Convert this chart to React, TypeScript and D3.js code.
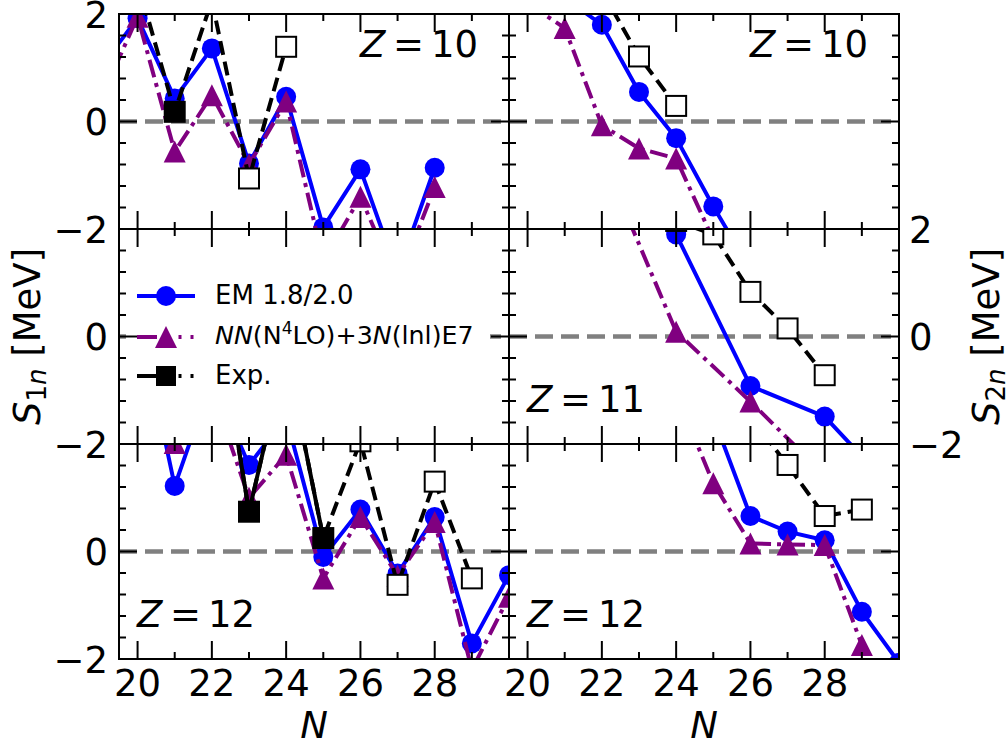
import React from "react";
import * as d3 from "d3";

// ---- neutron numbers and separation energies (MeV) ----
// Z = 10, S1n
const z10S1nN = [19, 20, 21, 22, 23, 24, 25, 26, 27, 28];
const z10S1nEM = [1.0, 1.92, 0.43, 1.36, -0.78, 0.46, -1.97, -0.89, -2.83, -0.86];
const z10S1nNN = [0.4, 1.95, -0.56, 0.49, -0.8, 0.37, -2.6, -1.4, -3.0, -1.22];
const z10S1nExpN = [20, 21, 22, 23, 24];
const z10S1nExp = [2.6, 0.18, 2.25, -1.06, 1.39];
const z10S1nExpMeasured = [false, true, false, false, false];

// Z = 10, S2n
const z10S2nEmN = [21, 22, 23, 24, 25, 26];
const z10S2nEM = [2.3, 1.8, 0.55, -0.31, -1.58, -2.75];
const z10S2nNnN = [20, 21, 22, 23, 24, 25];
const z10S2nNN = [2.2, 1.74, -0.07, -0.5, -0.69, -2.2];
const z10S2nExpN = [22, 23, 24];
const z10S2nExp = [2.43, 1.21, 0.29];
const z10S2nExpMeasured = [false, false, false];

// Z = 11, S2n
const z11S2nEmN = [24, 26, 28, 30];
const z11S2nEM = [1.9, -0.92, -1.49, -2.97];
const z11S2nNnN = [22, 24, 26, 28];
const z11S2nNN = [3.35, 0.09, -1.21, -2.58];
const z11S2nExpN = [24, 25, 26, 27, 28];
const z11S2nExp = [2.15, 1.9, 0.83, 0.15, -0.72];
const z11S2nExpMeasured = [false, false, false, false, false];

// Z = 12, S1n
const z12S1nN = [20, 21, 22, 23, 24, 25, 26, 27, 28, 29, 30];
const z12S1nEM = [4.47, 1.22, 3.2, 1.61, 2.5, -0.1, 0.78, -0.41, 0.64, -1.71, -0.44];
const z12S1nNN = [3.5, 2.02, 3.0, 1.0, 1.8, -0.5, 0.64, -0.45, 0.55, -2.2, -0.84];
const z12S1nExpN = [22, 23, 24, 25, 26, 27, 28, 29];
const z12S1nExp = [5.0, 0.74, 3.7, 0.25, 2.05, -0.62, 1.3, -0.5];
const z12S1nExpMeasured = [true, true, true, true, false, false, false, false];

// Z = 12, S2n
const z12S2nEmN = [25, 26, 27, 28, 29, 30];
const z12S2nEM = [2.5, 0.66, 0.37, 0.21, -1.12, -2.07];
const z12S2nNnN = [24, 25, 26, 27, 28, 29, 30];
const z12S2nNN = [2.93, 1.27, 0.15, 0.13, 0.12, -1.74, -3.2];
const z12S2nExpN = [26, 27, 28, 29];
const z12S2nExp = [2.5, 1.61, 0.66, 0.78];
const z12S2nExpMeasured = [false, false, false, false];

// ---- axes ----
const xDomain = [19.5, 30];
const yDomain = [-2, 2];
const xMajorTicks = [20, 22, 24, 26, 28, 30];
const xMinorTicks = [21, 23, 25, 27, 29];
const xTickLabels = [20, 22, 24, 26, 28];
const yMajorTicks = [-2, 0, 2];
const yMinorTicks = [-1.6, -1.2, -0.8, -0.4, 0.4, 0.8, 1.2, 1.6];

const legendLabels = ["EM 1.8/2.0", "NN(N4LO)+3N(lnl)E7", "Exp."];

const zip = (n: number[], v: number[]) => n.map((d, i) => ({ n: d, v: v[i] }));
const zipExp = (n: number[], v: number[], m: boolean[]) =>
  n.map((d, i) => ({ n: d, v: v[i], m: m[i] }));

type Pt = { n: number; v: number; m?: boolean };
type Panel = {
  key: string;
  col: number;
  row: number;
  em: Pt[];
  nn: Pt[];
  exp: Pt[];
  label?: string;
  labelX?: number;
  labelY?: number;
};

const panels: Panel[] = [
  {
    key: "z10s1n", col: 0, row: 0,
    em: zip(z10S1nN, z10S1nEM), nn: zip(z10S1nN, z10S1nNN),
    exp: zipExp(z10S1nExpN, z10S1nExp, z10S1nExpMeasured),
    label: "10", labelX: 241, labelY: 43,
  },
  {
    key: "z10s2n", col: 1, row: 0,
    em: zip(z10S2nEmN, z10S2nEM), nn: zip(z10S2nNnN, z10S2nNN),
    exp: zipExp(z10S2nExpN, z10S2nExp, z10S2nExpMeasured),
    label: "10", labelX: 241, labelY: 43,
  },
  { key: "z11s1n", col: 0, row: 1, em: [], nn: [], exp: [] },
  {
    key: "z11s2n", col: 1, row: 1,
    em: zip(z11S2nEmN, z11S2nEM), nn: zip(z11S2nNnN, z11S2nNN),
    exp: zipExp(z11S2nExpN, z11S2nExp, z11S2nExpMeasured),
    label: "11", labelX: 18, labelY: 183,
  },
  {
    key: "z12s1n", col: 0, row: 2,
    em: zip(z12S1nN, z12S1nEM), nn: zip(z12S1nN, z12S1nNN),
    exp: zipExp(z12S1nExpN, z12S1nExp, z12S1nExpMeasured),
    label: "12", labelX: 18, labelY: 183,
  },
  {
    key: "z12s2n", col: 1, row: 2,
    em: zip(z12S2nEmN, z12S2nEM), nn: zip(z12S2nNnN, z12S2nNN),
    exp: zipExp(z12S2nExpN, z12S2nExp, z12S2nExpMeasured),
    label: "12", labelX: 18, labelY: 183,
  },
];

const W = 1008;
const H = 746;
const PANEL_W = 390;
const PANEL_H = 215;
const LEFT0 = 119;
const TOP0 = 14;
const FONT = "DejaVu Sans, sans-serif";

const BLUE = "#0000ff";
const PURPLE = "#800080";
const GRAY = "#808080";

const LW = 4;
const NN_DASH = "18,6,4,6";
const EXP_DASH = "14,7";

function triPath(cx: number, cy: number, s: number) {
  return `M${cx},${cy - s}L${cx + s},${cy + s}L${cx - s},${cy + s}Z`;
}

function PanelView({ p }: { p: Panel }) {
  const left = LEFT0 + p.col * PANEL_W;
  const top = TOP0 + p.row * PANEL_H;
  const x = d3.scaleLinear().domain(xDomain).range([left, left + PANEL_W]);
  const y = d3.scaleLinear().domain(yDomain).range([top + PANEL_H, top]);
  const line = d3
    .line<Pt>()
    .x((d) => x(d.n))
    .y((d) => y(d.v));
  const clipId = `clip-${p.key}`;

  // consecutive measured points get a solid line
  const measuredRuns: Pt[][] = [];
  let run: Pt[] = [];
  p.exp.forEach((d) => {
    if (d.m) run.push(d);
    else {
      if (run.length > 1) measuredRuns.push(run);
      run = [];
    }
  });
  if (run.length > 1) measuredRuns.push(run);

  const lx = left + (p.labelX || 0);
  const ly = top + (p.labelY || 0);

  return (
    <g>
      <defs>
        <clipPath id={clipId}>
          <rect x={left} y={top} width={PANEL_W} height={PANEL_H} />
        </clipPath>
      </defs>
      <g clipPath={`url(#${clipId})`}>
        <line
          x1={left}
          x2={left + PANEL_W}
          y1={y(0)}
          y2={y(0)}
          stroke={GRAY}
          strokeWidth={4.5}
          strokeDasharray="18,8"
        />
        {p.em.length > 0 && (
          <g>
            <path d={line(p.em) || ""} fill="none" stroke={BLUE} strokeWidth={LW} strokeLinejoin="round" />
            {p.em.map((d, i) => (
              <circle key={i} cx={x(d.n)} cy={y(d.v)} r={10} fill={BLUE} />
            ))}
          </g>
        )}
        {p.nn.length > 0 && (
          <g>
            <path d={line(p.nn) || ""} fill="none" stroke={PURPLE} strokeWidth={LW} strokeDasharray={NN_DASH} />
            {p.nn.map((d, i) => (
              <path key={i} d={triPath(x(d.n), y(d.v), 11)} fill={PURPLE} />
            ))}
          </g>
        )}
        {p.exp.length > 0 && (
          <g>
            <path d={line(p.exp) || ""} fill="none" stroke="#000" strokeWidth={LW} strokeDasharray={EXP_DASH} />
            {measuredRuns.map((r, i) => (
              <path key={i} d={line(r) || ""} fill="none" stroke="#000" strokeWidth={LW} />
            ))}
            {p.exp.map((d, i) => (
              <rect
                key={i}
                x={x(d.n) - 10}
                y={y(d.v) - 10}
                width={20}
                height={20}
                fill={d.m ? "#000" : "#fff"}
                stroke="#000"
                strokeWidth={2}
              />
            ))}
          </g>
        )}
      </g>
      {p.label && (
        <g fontFamily={FONT} fontSize={37}>
          <text x={lx} y={ly} fontStyle="italic">Z</text>
          <text x={lx + 33} y={ly}>=</text>
          <text x={lx + 71} y={ly}>{p.label}</text>
        </g>
      )}
    </g>
  );
}

function Frame({ col, row }: { col: number; row: number }) {
  const left = LEFT0 + col * PANEL_W;
  const top = TOP0 + row * PANEL_H;
  const x = d3.scaleLinear().domain(xDomain).range([left, left + PANEL_W]);
  const y = d3.scaleLinear().domain(yDomain).range([top + PANEL_H, top]);
  const bottom = top + PANEL_H;
  const right = left + PANEL_W;
  const MAJ = 18;
  const MIN = 7;
  const ticks: JSX.Element[] = [];
  xMajorTicks.forEach((t, i) => {
    ticks.push(<line key={`xb${i}`} x1={x(t)} x2={x(t)} y1={bottom} y2={bottom - MAJ} />);
    ticks.push(<line key={`xt${i}`} x1={x(t)} x2={x(t)} y1={top} y2={top + MAJ} />);
  });
  xMinorTicks.forEach((t, i) => {
    ticks.push(<line key={`xbm${i}`} x1={x(t)} x2={x(t)} y1={bottom} y2={bottom - MIN} />);
    ticks.push(<line key={`xtm${i}`} x1={x(t)} x2={x(t)} y1={top} y2={top + MIN} />);
  });
  yMajorTicks.forEach((t, i) => {
    ticks.push(<line key={`yl${i}`} x1={left} x2={left + MAJ} y1={y(t)} y2={y(t)} />);
    ticks.push(<line key={`yr${i}`} x1={right} x2={right - MAJ} y1={y(t)} y2={y(t)} />);
  });
  yMinorTicks.forEach((t, i) => {
    ticks.push(<line key={`ylm${i}`} x1={left} x2={left + MIN} y1={y(t)} y2={y(t)} />);
    ticks.push(<line key={`yrm${i}`} x1={right} x2={right - MIN} y1={y(t)} y2={y(t)} />);
  });
  return (
    <g stroke="#000" strokeWidth={2}>
      {ticks}
      <rect x={left} y={top} width={PANEL_W} height={PANEL_H} fill="none" />
    </g>
  );
}

function Legend() {
  const x0 = 137;
  const x1 = 195;
  const xm = 166;
  const rows = [296, 337, 376];
  const handleDash = "20,21.5,3,9,3,10";
  return (
    <g>
      <rect x={126} y={268} width={364} height={132} fill="#fff" />
      <line x1={x0} x2={x1} y1={rows[0]} y2={rows[0]} stroke={BLUE} strokeWidth={LW} />
      <circle cx={xm} cy={rows[0]} r={10} fill={BLUE} />
      <line x1={x0} x2={x1} y1={rows[1]} y2={rows[1]} stroke={PURPLE} strokeWidth={LW} strokeDasharray={handleDash} />
      <path d={triPath(xm, rows[1], 11)} fill={PURPLE} />
      <line x1={x0} x2={x1} y1={rows[2]} y2={rows[2]} stroke="#000" strokeWidth={LW} strokeDasharray={handleDash} />
      <rect x={xm - 10} y={rows[2] - 10} width={20} height={20} fill="#000" />
      <g fontFamily={FONT} fontSize={26}>
        <text x={215} y={rows[0] + 8}>{legendLabels[0]}</text>
        <text x={215} y={rows[1] + 7} fontSize={25.3}>
          <tspan fontStyle="italic">NN</tspan>
          <tspan>(N</tspan>
          <tspan dy={-10} fontSize={17}>4</tspan>
          <tspan dy={10}>LO)+3</tspan>
          <tspan fontStyle="italic">N</tspan>
          <tspan>(lnl)E7</tspan>
        </text>
        <text x={215} y={rows[2] + 8}>{legendLabels[2]}</text>
      </g>
    </g>
  );
}

export default function App() {
  const yRows = [0, 1, 2].map((r) =>
    d3.scaleLinear().domain(yDomain).range([TOP0 + (r + 1) * PANEL_H, TOP0 + r * PANEL_H])
  );
  const xCols = [0, 1].map((c) =>
    d3.scaleLinear().domain(xDomain).range([LEFT0 + c * PANEL_W, LEFT0 + (c + 1) * PANEL_W])
  );
  const fmt = (v: number) => (v < 0 ? `\u2212${Math.abs(v)}` : `${v}`);
  const bottomY = TOP0 + 3 * PANEL_H;
  const midRowCenter = TOP0 + 1.5 * PANEL_H;

  // on shared row boundaries only one label is kept (the lower panel's top value
  // sits exactly under the upper panel's bottom value)
  const leftLabels: { y: number; t: number; key: string }[] = [];
  yRows.forEach((ys, r) =>
    yMajorTicks.forEach((t) => {
      if (r > 0 && t === 2) return;
      leftLabels.push({ y: ys(t), t, key: `l${r}${t}` });
    })
  );

  return (
    <svg
      width={W}
      height={H}
      viewBox={`0 0 ${W} ${H}`}
      style={{ position: "absolute", left: 0, top: 0, background: "#fff" }}
    >
      <rect x={0} y={0} width={W} height={H} fill="#fff" />
      {panels.map((p) => (
        <PanelView key={p.key} p={p} />
      ))}
      <Legend />
      {[0, 1].map((c) => [0, 1, 2].map((r) => <Frame key={`f${c}${r}`} col={c} row={r} />))}

      {/* left tick labels */}
      <g fontFamily={FONT} fontSize={37} textAnchor="end">
        {leftLabels.map((d) => (
          <text key={d.key} x={108} y={Math.max(d.y + 13.5, 27)}>
            {fmt(d.t)}
          </text>
        ))}
      </g>
      {/* right tick labels on the middle row */}
      <g fontFamily={FONT} fontSize={37} textAnchor="start">
        {yMajorTicks.map((t) => (
          <text key={`r${t}`} x={909} y={yRows[1](t) + 13.5}>
            {fmt(t)}
          </text>
        ))}
      </g>
      {/* bottom tick labels */}
      <g fontFamily={FONT} fontSize={37} textAnchor="middle">
        {xCols.map((xs, c) =>
          xTickLabels.map((t) => (
            <text key={`b${c}${t}`} x={xs(t)} y={bottomY + 37}>
              {t}
            </text>
          ))
        )}
      </g>
      {/* axis titles */}
      <g fontFamily={FONT} fontSize={37} textAnchor="middle">
        {xCols.map((xs, c) => (
          <text key={`nx${c}`} x={(xs.range()[0] + xs.range()[1]) / 2} y={738} fontStyle="italic">
            N
          </text>
        ))}
        <text transform={`translate(40,${midRowCenter}) rotate(-90)`}>
          <tspan fontStyle="italic">S</tspan>
          <tspan fontSize={26} dy={6}>1</tspan>
          <tspan fontSize={26} fontStyle="italic">n</tspan>
          <tspan dy={-6}>{" [MeV]"}</tspan>
        </text>
        <text transform={`translate(999,${midRowCenter}) rotate(-90)`}>
          <tspan fontStyle="italic">S</tspan>
          <tspan fontSize={26} dy={6}>2</tspan>
          <tspan fontSize={26} fontStyle="italic">n</tspan>
          <tspan dy={-6}>{" [MeV]"}</tspan>
        </text>
      </g>
    </svg>
  );
}
